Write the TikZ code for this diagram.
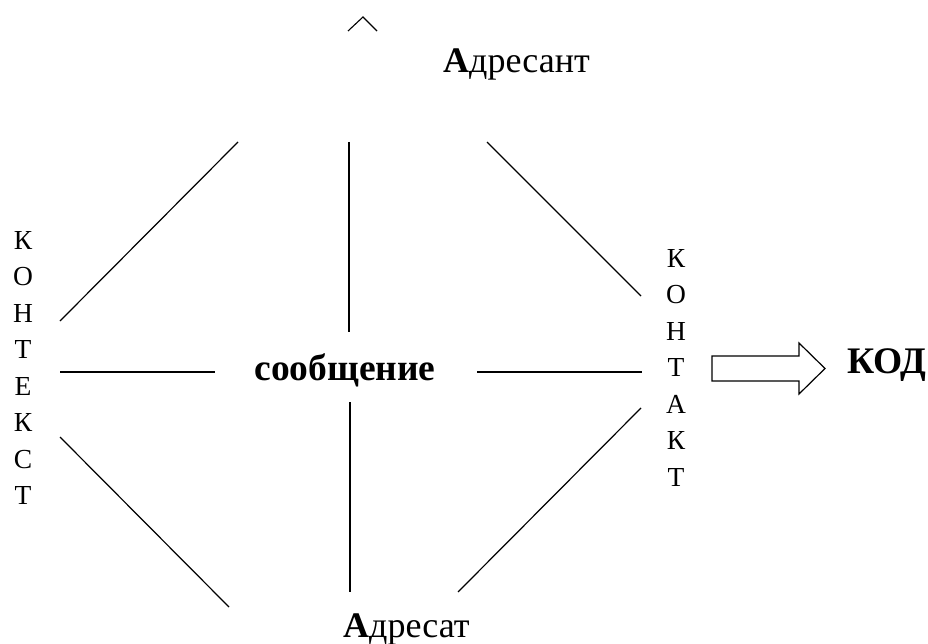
\documentclass[tikz,border=0pt]{standalone}
\usepackage{fontspec}
\setmainfont{Liberation Serif}
\begin{document}
\begin{tikzpicture}[x=1pt,y=-1pt,
  big/.style={font=\fontsize{36}{42}\selectfont, inner sep=0pt},
  bigb/.style={font=\fontsize{37.5}{42}\selectfont\bfseries, inner sep=0pt},
  vert/.style={font=\fontsize{27.5}{36.5}\selectfont, inner sep=0pt, align=center, anchor=north},
  spoke/.style={line width=1.2pt}]
\useasboundingbox (0,0) rectangle (928,644);
% caret
\draw[line width=1.1pt] (348,31) -- (363,17) -- (377,31);
% texts
\node[big, anchor=base west] (adresant) at (443,73) {\textbf{А}дресант};
\node[big, anchor=base west] (adresat) at (343,637) {\textbf{А}дресат};
\node[bigb, anchor=base] (msg) at (345,380) {сообщение};
\node[bigb, anchor=base west] (kod) at (847,373) {КОД};
\node[vert] (kontekst) at (23,231) {К\\О\\Н\\Т\\Е\\К\\С\\Т};
\node[vert] (kontakt) at (676,249) {К\\О\\Н\\Т\\А\\К\\Т};
% spoke end points
\coordinate (tl1) at (238,142); \coordinate (tl2) at (60,321);
\coordinate (tv1) at (349,142); \coordinate (tv2) at (349,332);
\coordinate (tr1) at (487,142); \coordinate (tr2) at (641,296);
\coordinate (hl1) at (60,372);  \coordinate (hl2) at (215,372);
\coordinate (hr1) at (477,372); \coordinate (hr2) at (642,372);
\coordinate (bl1) at (60,437);  \coordinate (bl2) at (229,607);
\coordinate (bv1) at (350,402); \coordinate (bv2) at (350,592);
\coordinate (br1) at (641,408); \coordinate (br2) at (458,592);
\draw[spoke] (tl1) -- (tl2);
\draw[spoke] (tv1) -- (tv2);
\draw[spoke] (tr1) -- (tr2);
\draw[spoke] (hl1) -- (hl2);
\draw[spoke] (hr1) -- (hr2);
\draw[spoke] (bl1) -- (bl2);
\draw[spoke] (bv1) -- (bv2);
\draw[spoke] (br1) -- (br2);
% block arrow
\draw[line width=1.2pt, line join=miter] (712,356) -- (799,356) -- (799,343) -- (825,368.5) -- (799,394) -- (799,381) -- (712,381) -- cycle;
\end{tikzpicture}
\end{document}
